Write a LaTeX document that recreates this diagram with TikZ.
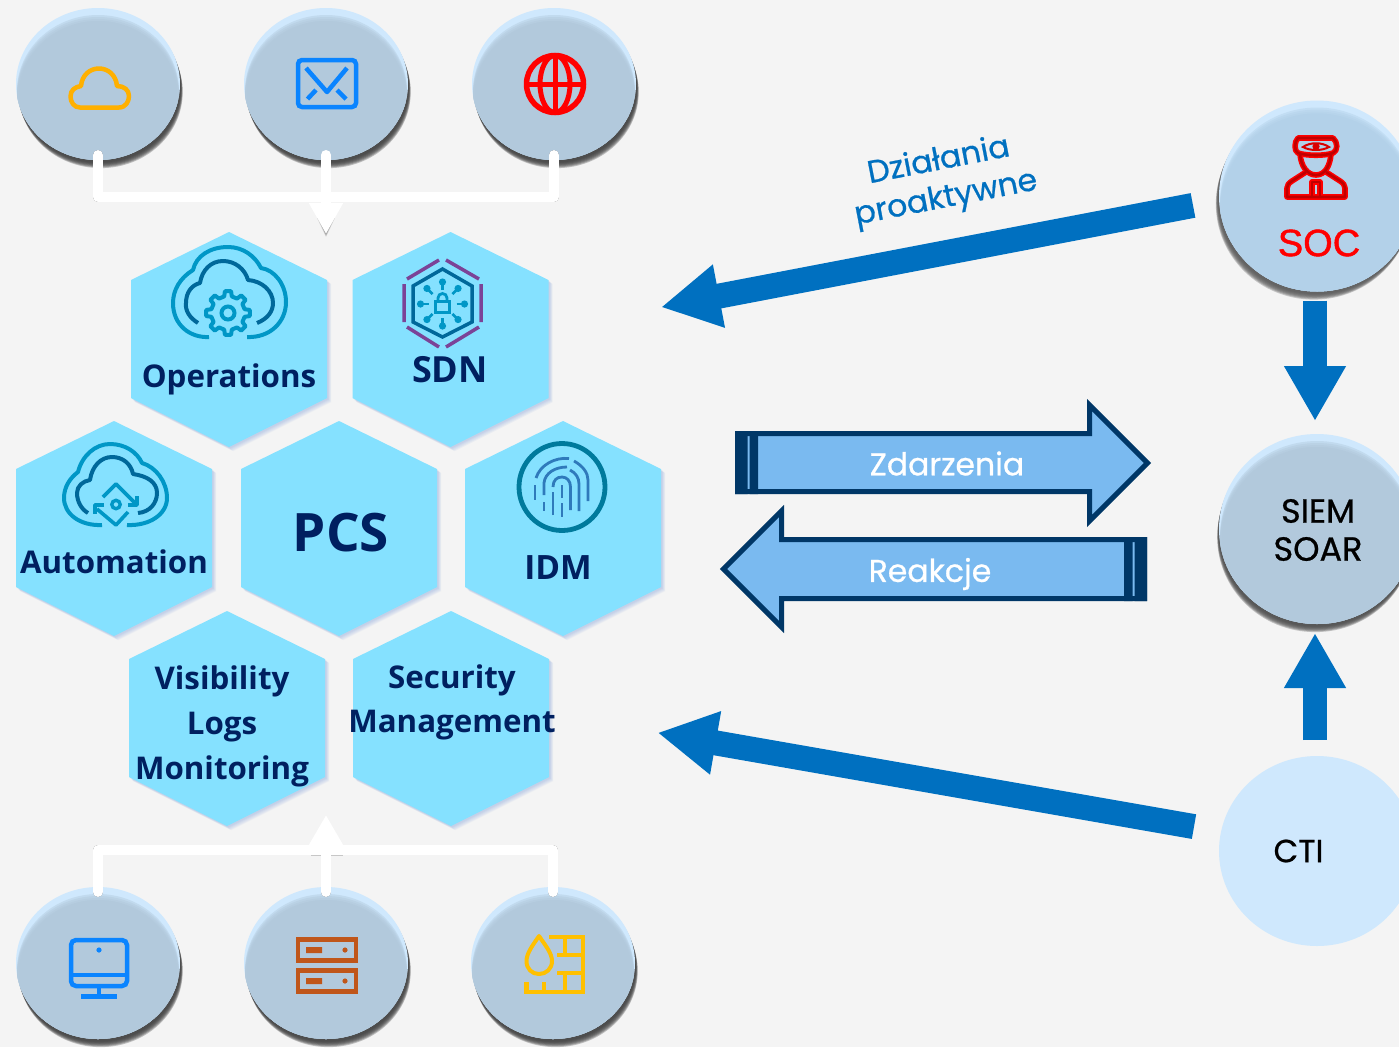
\documentclass[tikz,border=0pt]{standalone}
\usepackage{fontspec}
\setmainfont{Open Sans}
\newfontfamily\hexfont{Open Sans}
\newfontfamily\popfont{Poppins}[FakeBold=0.7]
\newfontfamily\arialfont{Liberation Sans}[FakeBold=1.2]
\usetikzlibrary{arrows.meta,calc,shapes.geometric}
\definecolor{bgc}{HTML}{F4F4F4}
\definecolor{hexc}{HTML}{85E1FF}
\definecolor{hexsh}{HTML}{4A78D0}
\definecolor{navy}{HTML}{002060}
\definecolor{bub}{HTML}{B2C9DC}
\definecolor{bubs}{HTML}{B3D1E9}
\definecolor{hil}{HTML}{CFE8FD}
\definecolor{arrowb}{HTML}{0070C0}
\definecolor{blockf}{HTML}{7ABAF0}
\definecolor{blockd}{HTML}{003767}
\definecolor{icteal}{HTML}{0097C6}
\definecolor{icdark}{HTML}{00689A}
\definecolor{icpurp}{HTML}{7B4397}
\definecolor{icring}{HTML}{007A9C}
\definecolor{icfp}{HTML}{2F7ABB}
\definecolor{icblue}{HTML}{0A84FF}
\definecolor{icorange}{HTML}{FFB000}
\definecolor{icyellow}{HTML}{FFC000}
\definecolor{icrust}{HTML}{C0561A}
\tikzset{
  hexlabel/.style={font=\hexfont\bfseries\fontsize{31.3}{44}\selectfont,text=navy,align=center,inner sep=0pt},
  poplabel/.style={font=\popfont\fontsize{31.5}{38}\selectfont,align=center,inner sep=0pt},
  bubble/.style={ellipse,inner sep=0pt,outer sep=0pt},
  wline/.style={draw=white,line width=10pt,line cap=round,line join=round},
  wshadow/.style={draw=black,line width=10pt,line cap=round,line join=round,opacity=.13},
  bigarrow/.style={draw=arrowb,line width=25pt,-{Triangle[length=59pt,width=60pt,color=arrowb]}},
  smallarrow/.style={draw=arrowb,line width=24pt,-{Triangle[length=55pt,width=58pt,color=arrowb]}},
  blockarrow/.style={fill=blockf,draw=blockd,line width=5pt,miter limit=10},
  ic/.style={line width=#1,line cap=butt,line join=round},
}
% #1 x, #2 top
\newcommand{\hexa}[2]{%
  \foreach \d in {7,6,5,4,3,2}{\fill[hexsh,opacity=.05] ({#1+\d*.6},{#2+\d*.6}) -- ++(98,48) -- ++(0,118) -- ++(-98,49) -- ++(-98,-49) -- ++(0,-118) -- cycle;}
  \fill[hexc] (#1,#2) -- ++(98,48) -- ++(0,118) -- ++(-98,49) -- ++(-98,-49) -- ++(0,-118) -- cycle;}
% #1 name, #2 cx, #3 cy, #4 rx, #5 ry, #6 base, #7 shadow colour, #8 shadow x per step
\newcommand{\bubbleshape}[8]{%
  \foreach \d in {9,8,7,6,5,4,3}{\fill[#7,opacity=.3] ({#2+\d*#8},{#3+\d*.9}) ellipse [x radius=#4,y radius=#5];}
  \node[bubble,fill=hil,minimum width=#4*2pt,minimum height=#5*2pt] (#1) at (#2,#3) {};
  \begin{scope}
    \clip (#2,#3) ellipse [x radius=#4,y radius=#5];
    \foreach \d in {15,13,11,9,7}{\fill[#6,opacity=.45] (#2,{#3+\d}) ellipse [x radius=#4-1,y radius=#5];}
    \fill[#6] (#2,{#3+13}) ellipse [x radius=#4-3,y radius=#5];
  \end{scope}}
\begin{document}
\begin{tikzpicture}[x=1pt,y=-1pt]
\useasboundingbox (0,0) rectangle (1399,1047);
\fill[bgc] (0,0) rectangle (1399,1047);

% ---------- bubbles
\bubbleshape{t1}{98}{84}{82}{76}{bub}{black!75}{.3}
\bubbleshape{t2}{326}{84}{82}{76}{bub}{black!75}{.3}
\bubbleshape{t3}{554}{84}{82}{76}{bub}{black!75}{.3}
\bubbleshape{b1}{98}{963}{82}{76}{bub}{black!75}{.3}
\bubbleshape{b2}{326}{963}{82}{76}{bub}{black!75}{.3}
\bubbleshape{b3}{553}{963}{82}{76}{bub}{black!75}{.3}
\bubbleshape{soc}{1317}{196}{98}{95.5}{bubs}{black!65}{-.35}
\bubbleshape{siem}{1317}{529}{98}{95}{bub}{black!70}{-.2}
\node[bubble,fill=hil,minimum width=196pt,minimum height=190pt] (cti) at (1317,851) {};

% ---------- white buses
\coordinate (busT) at (326,197);
\coordinate (busB) at (326,850);
\coordinate (tipT) at (326,234);
\coordinate (tipB) at (326,815);
\foreach \s/\o in {1.5/.2,3/.22,4.5/.18}{
  \begin{scope}[shift={(.5,\s)}]
    \draw[wshadow,opacity=\o] ($(t1.south)+(0,-5)$) |- (busT) -| ($(t3.south)+(0,-5)$);
    \draw[wshadow,opacity=\o] ($(b1.north)+(0,5)$) |- (busB) -| ($(b3.north)+(0,5)$);
    \draw[wshadow,opacity=\o] ($(b2.north)+(0,5)$) -- ($(tipB)+(0,30)$);
    \fill[black,opacity=\o] (310,845) rectangle (342,851);
  \end{scope}}
\foreach \s/\o in {1/.12,2/.12,3/.12}{
  \fill[black,opacity=\o] (317,{215+\s}) -- (335,{215+\s}) -- (326,{234+\s}) -- cycle;}
\draw[wline] ($(t1.south)+(0,-5)$) |- (busT) -| ($(t3.south)+(0,-5)$);
\draw[wline] ($(b1.north)+(0,5)$) |- (busB) -| ($(b3.north)+(0,5)$);
\draw[wline,line cap=round,-{Triangle[length=31pt,width=32pt,color=white]}] ($(t2.south)+(0,-5)$) -- (tipT);
\draw[wline,line cap=round,-{Triangle[length=30pt,width=32pt,color=white]}] ($(b2.north)+(0,5)$) -- (tipB);

% ---------- hexagons
\hexa{229}{232}
\hexa{450.5}{232}
\hexa{114}{421}
\hexa{339}{421}
\hexa{563}{421}
\hexa{227}{611}
\hexa{451}{611}
\node[hexlabel] (lops) at (229,379) {Operations};
\node[hexlabel,font=\hexfont\bfseries\fontsize{36}{44}\selectfont] (lsdn) at (450,370) {SDN};
\node[hexlabel] (laut) at (114,562) {Automation};
\node[hexlabel,font=\hexfont\bfseries\fontsize{53}{60}\selectfont] (lpcs) at (341,533) {PCS};
\node[hexlabel,font=\hexfont\bfseries\fontsize{33.5}{44}\selectfont] (lidm) at (558,568) {IDM};
\node[hexlabel,font=\hexfont\bfseries\fontsize{31.3}{45}\selectfont] (lvis) at (222,726) {Visibility\\Logs\\Monitoring};
\node[hexlabel,font=\hexfont\bfseries\fontsize{31.3}{44}\selectfont] (lsec) at (452,702) {Security\\Management};

% ---------- top icons
\draw[icorange,ic=4.5pt] (80,107.5) -- (119,107.5) .. controls (126,107.5) and (129,101) .. (129,96) .. controls (129,90) and (124,86) .. (117,86) .. controls (116,75) and (108,68.5) .. (99,68.5) .. controls (90,68.5) and (82,75) .. (81,86) .. controls (75,87) and (70.5,90) .. (70.5,96.5) .. controls (70.5,102) and (74,107.5) .. (80,107.5) -- cycle;
\draw[icblue,line width=4.5pt,rounded corners=4pt] (298,60) rectangle (356,107);
\draw[icblue,ic=4.5pt] (306,68) -- (327,92) -- (347,68);
\draw[icblue,ic=4.5pt] (316,90) -- (307.5,99);
\draw[icblue,ic=4.5pt] (337,90) -- (346,99);
\draw[red,line width=5.5pt] (555,84) circle [radius=28.5];
\draw[red,line width=5pt] (555,84) ellipse [x radius=15,y radius=28.5];
\draw[red,line width=5pt] (555,55) -- (555,113) (526,84) -- (584,84);

% ---------- bottom icons
\draw[icblue,line width=4.5pt,rounded corners=5pt] (71,940) rectangle (127,986);
\draw[icblue,line width=4.5pt] (71,975) -- (127,975);
\fill[icblue] (99,950) circle [radius=2.6];
\draw[icblue,line width=4pt] (99,987) -- (99,996);
\draw[icblue,line width=5.5pt] (81,996.5) -- (117,996.5);
\draw[icrust,line width=4.5pt] (298,939.5) rectangle (356,960.5);
\draw[icrust,line width=4.5pt] (298,970.5) rectangle (356,991.5);
\fill[icrust] (306,947) rectangle (322,953) (306,978) rectangle (322,984);
\fill[icrust] (345,950) circle [radius=2.6] (345,981) circle [radius=2.6];
\draw[icyellow,line width=4pt,line join=round] (539,936) .. controls (533,945) and (526.5,953) .. (526.5,961) .. controls (526.5,969) and (532,974) .. (539,974) .. controls (546,974) and (552,969) .. (552,961) .. controls (552,953) and (545,945) .. (539,936) -- cycle;
\draw[icyellow,line width=4.5pt] (549,937) -- (583,937) -- (583,992) -- (526.5,992) -- (526.5,982);
\draw[icyellow,line width=4.5pt] (544,982) -- (544,992);
\draw[icyellow,line width=4pt] (565,937) -- (565,955) (557,955) -- (583,955) (557,973) -- (583,973) (565,973) -- (565,992);

% ---------- Operations icon
\draw[icteal,ic=4pt] (209,337) .. controls (190,338) and (173,325) .. (173,303) .. controls (173,290) and (180,278) .. (193,270) .. controls (196,256) and (210,247) .. (228,247) .. controls (243,247) and (255,256) .. (261,268) .. controls (275,270) and (286,285) .. (286,302) .. controls (286,322) and (270,338) .. (247,337);
\draw[icdark,ic=4pt] (198,323) .. controls (190,318) and (185,311) .. (186,303) .. controls (186,292) and (192,285) .. (200,283) .. controls (202,270) and (211,261) .. (223,261) .. controls (235,261) and (245,269) .. (248,280) .. controls (262,281) and (273,291) .. (273,303) .. controls (273,312) and (267,319) .. (257,323);
\begin{scope}[shift={(228,313)}]
  \draw[icteal,ic=4pt] (-13:17) \foreach \a in {0,45,...,315}{ -- ({\a-13}:17) -- ({\a-8}:22) -- ({\a+8}:22) -- ({\a+13}:17)} -- cycle;
  \draw[icteal,line width=4pt] (0,0) circle [radius=6.5];
\end{scope}

% ---------- SDN icon
\draw[icpurp,line width=3.5pt] (407,279) -- (439,260) (446,260) -- (479,279) (404,284) -- (404,322) (481,284) -- (481,322) (407,327) -- (439,347) (446,347) -- (479,327);
\draw[icdark,line width=3.5pt,line join=miter] (442.5,269) -- (472,286) -- (472,322) -- (442.5,337) -- (413,322) -- (413,286) -- cycle;
\begin{scope}[shift={(442.5,304)}]
  \foreach \a in {0,45,...,315}{
    \draw[icteal,line width=2.6pt] (\a:14) -- (\a:22);
    \fill[icteal] (\a:22) circle [radius=3.6];
  }
  \draw[icteal,line width=3pt] (-7,-3) rectangle (7,8);
  \draw[icteal,line width=2.8pt] (-4.5,-3) -- (-4.5,-6) arc[start angle=180,end angle=360,radius=4.5] -- (4.5,-3);
\end{scope}

% ---------- Automation icon
\draw[icteal,ic=4pt] (102,525) .. controls (80,526) and (64,514) .. (64,498) .. controls (64,487) and (70,478) .. (78,472) .. controls (82,456) and (95,444) .. (110,444) .. controls (125,444) and (137,452) .. (142,463) .. controls (156,467) and (167,482) .. (167,498) .. controls (167,514) and (150,526) .. (127,525);
\draw[icdark,ic=4pt] (88,513) .. controls (81,509) and (77,501) .. (77,493) .. controls (77,486) and (83,481) .. (90,480) .. controls (92,466) and (101,457) .. (112,457) .. controls (123,457) and (131,464) .. (133,474) .. controls (147,476) and (157,482) .. (157,493) .. controls (157,503) and (150,512) .. (138,513);
\draw[icteal,ic=3.6pt] (103,497) -- (116,484) -- (135,503);
\draw[icteal,ic=3.6pt] (137,496) -- (137,505) -- (128,505);
\draw[icteal,ic=3.6pt] (97,509) -- (116,525) -- (128,512);
\draw[icteal,ic=3.6pt] (104,505) -- (95,505) -- (95,514);
\draw[icteal,line width=3.4pt] (116,504.5) circle [radius=4.2];

% ---------- IDM icon
\draw[icring,line width=4.8pt] (562,487) ellipse [x radius=43,y radius=43.5];
\begin{scope}[icfp,line width=2.8pt]
  \draw (535,485) -- (535,500);
  \draw (536,478) .. controls (540,465) and (555,457) .. (569,458.5);
  \draw (544,495) -- (544,483) .. controls (545,473) and (555,467) .. (567,467);
  \draw (544,502) -- (544,511);
  \draw (553,515) -- (553,492);
  \draw (553,487) .. controls (553,480) and (557,477) .. (562,477) .. controls (567,477) and (570.5,481) .. (570.5,487) -- (570.5,510);
  \draw (562,485) -- (562,498) (562,503) -- (562,517);
  \draw (570,470) .. controls (576,473) and (579,478) .. (579,484) -- (579,511);
  \draw (574,461) .. controls (583,466) and (588,473) .. (588,480) -- (588,501);
\end{scope}

% ---------- SOC icon
\foreach \c/\w in {red/5.6,red!75!black/2.6}{
  \begin{scope}[line width=\w pt,line join=round]
    \draw[\c] (1298,138) -- (1333,138) .. controls (1338,142) and (1338,151) .. (1333,153) .. controls (1325,156) and (1307,156) .. (1298,153) .. controls (1294,151) and (1294,142) .. (1298,138) -- cycle;
    \draw[\c] (1300,154) .. controls (1301,166) and (1307,175) .. (1316,175) .. controls (1325,175) and (1330,166) .. (1331,154);
    \draw[\c] (1306,172) -- (1292,181) .. controls (1289,183) and (1287,185) .. (1287,188) -- (1287,197) -- (1345,197) -- (1345,188) .. controls (1345,185) and (1343,183) .. (1340,181) -- (1326,172);
    \draw[\c] (1312,197) -- (1312,182) -- (1320,182) -- (1320,197);
  \end{scope}}
\fill[red!85!black] (1316,146.5) circle [radius=3.6];
\draw[red!85!black,line width=2pt] (1303,147) .. controls (1310,142) and (1322,142) .. (1329,147) .. controls (1322,151) and (1310,151) .. (1303,147) -- cycle;

% ---------- circle labels
\node[font=\arialfont\fontsize{38}{44}\selectfont,text=red,inner sep=0pt] (lsoc) at (1319,243) {SOC};
\node[poplabel,font=\popfont\fontsize{33.5}{38}\selectfont,text=black] (lsiem) at (1318,530) {SIEM\\SOAR};
\node[poplabel,font=\popfont\fontsize{32}{38}\selectfont,text=black] (lcti) at (1298.5,851) {CTI};

% ---------- blue connectors
\coordinate (aTs) at (1193,205.4);
\coordinate (aTe) at (661,307.2);
\coordinate (aBs) at (1194,826.6);
\coordinate (aBe) at (657.5,732.7);
\draw[bigarrow] (aTs) -- (aTe);
\draw[bigarrow] (aBs) -- (aBe);
\draw[smallarrow] ($(soc.south)+(-2,9)$) -- ($(siem.north)+(-2,-13)$);
\draw[smallarrow] ($(cti.north)+(-2,-16)$) -- ($(siem.south)+(-2,9)$);
\node[poplabel,text=arrowb,rotate=11] (lpro) at (942.5,180.5) {Działania\\proaktywne};

% ---------- block arrows
\draw[blockarrow] (737.5,433.5) -- (1089.5,433.5) -- (1089.5,405) -- (1147.5,463) -- (1089.5,521) -- (1089.5,491.5) -- (737.5,491.5) -- cycle;
\fill[blockd] (735,431) rectangle (747.5,494) (749.5,431) rectangle (758,494);
\draw[blockarrow] (1144.5,539.5) -- (781.5,539.5) -- (781.5,511) -- (723.5,569) -- (781.5,627) -- (781.5,598.5) -- (1144.5,598.5) -- cycle;
\fill[blockd] (1124,537) rectangle (1132.5,601) (1134.5,537) rectangle (1147,601);
\node[poplabel,text=white] (lzd) at (947,463.5) {Zdarzenia};
\node[poplabel,text=white] (lre) at (930,574) {Reakcje};
\end{tikzpicture}
\end{document}
